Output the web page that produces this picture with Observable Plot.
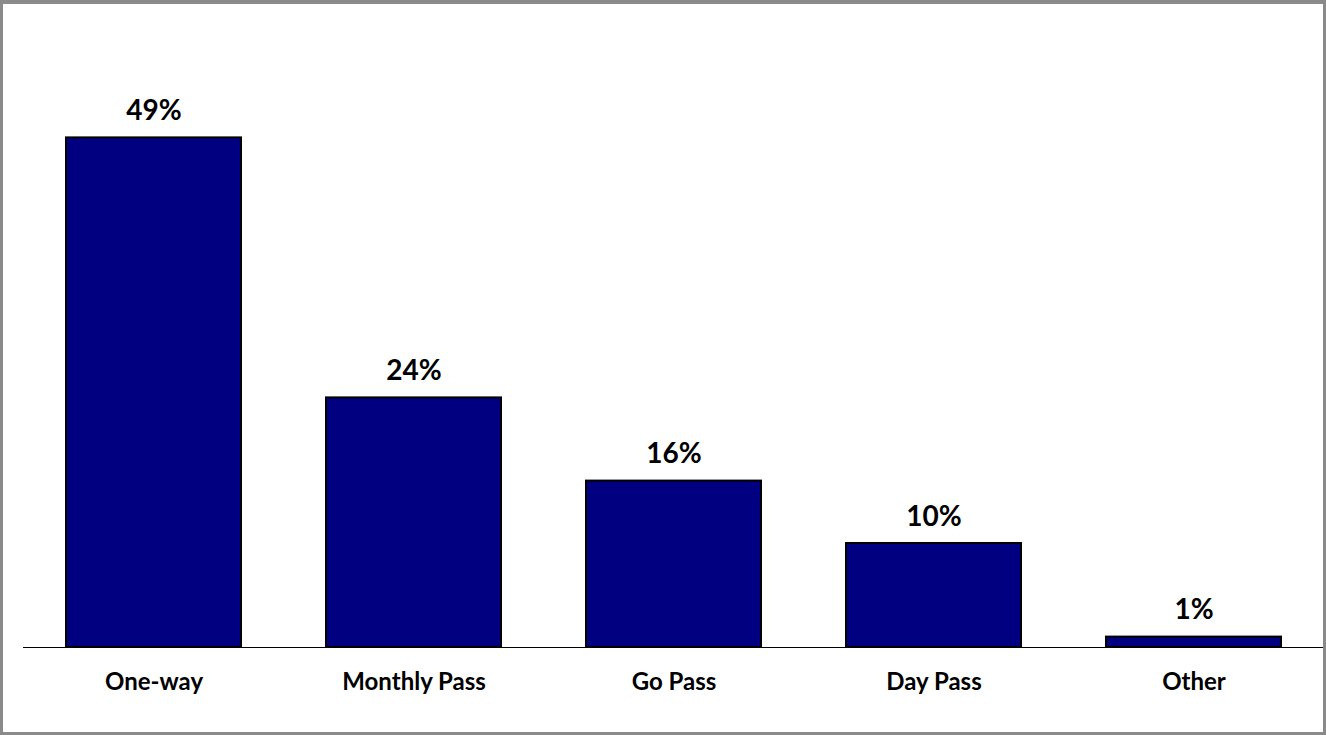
<!DOCTYPE html>
<html>
<head>
<meta charset="utf-8">
<script src="https://cdn.jsdelivr.net/npm/d3@7"></script>
<script src="https://cdn.jsdelivr.net/npm/@observablehq/plot@0.6"></script>
<style>
  html, body { margin: 0; padding: 0; background: #fff; }
  #wrap { position: relative; width: 1326px; height: 735px; overflow: hidden; }
  #wrap svg { position: absolute; left: 0; top: 0; }
  #border { position: absolute; left: 0; top: 0; width: 1326px; height: 735px; box-sizing: border-box;
            border: 3px solid #8a8a8a; border-top-width: 4px; pointer-events: none; }
</style>
</head>
<body>
<div id="wrap"><div id="border"></div></div>
<script>
const categories = ["One-way", "Monthly Pass", "Go Pass", "Day Pass", "Other"];
const values = [49, 24, 16, 10, 1];
const labels = ["49%", "24%", "16%", "10%", "1%"];

const data = categories.map((c, i) => ({category: c, value: values[i], label: labels[i]}));

const chart = Plot.plot({
  width: 1326,
  height: 735,
  marginTop: 23,
  marginBottom: 88,
  marginLeft: 23,
  marginRight: 3,
  style: {fontFamily: "Lato, 'Open Sans', sans-serif", background: "transparent", color: "#000"},
  x: {domain: categories, paddingInner: 0.327, paddingOuter: 0.1635, label: null},
  y: {domain: [0, 60], axis: null},
  marks: [
    Plot.ruleY([0], {stroke: "#000", strokeWidth: 1}),
    Plot.barY(data, {x: "category", y: "value", fill: "#000080", stroke: "#000", strokeWidth: 2}),
    Plot.text(data, {x: "category", y: "value", text: "label", lineAnchor: "bottom", dy: -18,
                     fontSize: 28, fontWeight: "bold", fill: "#000"}),
    Plot.axisX({tickSize: 0, tickPadding: 25.5, fontSize: 24, fontWeight: "bold", label: null, fill: "#000"})
  ]
});
document.getElementById("wrap").insertBefore(chart, document.getElementById("border"));
</script>
</body>
</html>
